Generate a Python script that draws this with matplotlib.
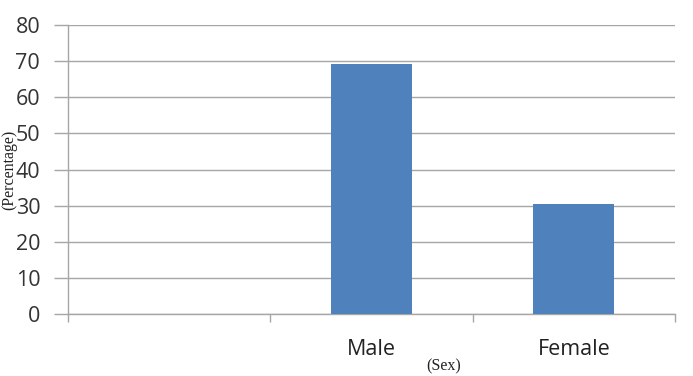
import matplotlib
matplotlib.use("Agg")
import matplotlib.pyplot as plt
import numpy as np

categories = ["", "Male", "Female"]
values = [0, 69.2, 30.5]
yticks = [0, 10, 20, 30, 40, 50, 60, 70, 80]

fig = plt.figure(figsize=(6.93, 3.76), dpi=100)
ax = fig.add_axes([68/693, 1-314/376, (675-68)/693, (314-25)/376])

x = np.arange(len(categories))
ax.bar(x[1:], values[1:], width=0.4, color="#4f81bd", zorder=3)

ax.set_xlim(-0.5, len(categories) - 0.5)
ax.set_ylim(0, 80)
ax.set_yticks(yticks)
ax.set_yticklabels([str(v) for v in yticks], fontsize=15.5, color="#333333", family="Open Sans")
ax.yaxis.grid(True, color="#a6a6a6", linewidth=1, zorder=0)
ax.tick_params(axis="y", length=10, color="#a6a6a6", width=1, pad=10)

# category boundaries as ticks, labels at centers
ax.set_xticks(np.arange(len(categories) + 1) - 0.5)
ax.set_xticklabels([])
ax.tick_params(axis="x", length=6, color="#a6a6a6", width=1)
ax.set_xticks(x, minor=True)
ax.set_xticklabels(categories, minor=True, fontsize=15.5, color="#222222", family="Open Sans")
ax.tick_params(axis="x", which="minor", length=0, pad=18)

for s in ["top", "right"]:
    ax.spines[s].set_visible(False)
for s in ["left", "bottom"]:
    ax.spines[s].set_color("#a6a6a6")
    ax.spines[s].set_linewidth(1)

fig.text(9/693, 1-170/376, "(Percentage)", rotation=90, ha="center", va="center",
         fontsize=11.5, family="Liberation Serif", color="#222222")
fig.text(444/693, 1-366/376, "(Sex)", ha="center", va="center",
         fontsize=11.5, family="Liberation Serif", color="#222222")

fig.savefig("out.png", dpi=100)
